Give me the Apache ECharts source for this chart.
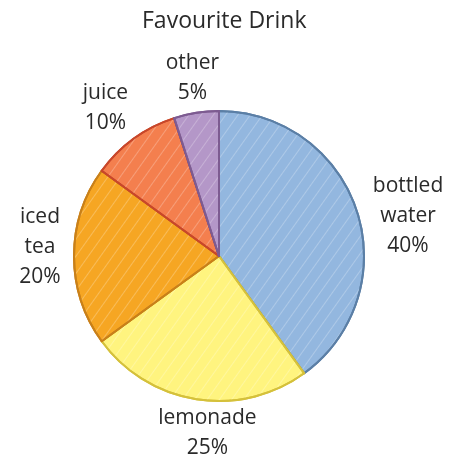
<!DOCTYPE html>
<html><head><meta charset="utf-8">
<script src="https://cdn.jsdelivr.net/npm/echarts@6/dist/echarts.min.js"></script>
<style>html,body{margin:0;padding:0;background:#fff}#c{width:456px;height:462px}</style>
</head><body><div id="c"></div>
<script>
const title = 'Favourite Drink';
const categories = ['bottled\nwater', 'lemonade', 'iced\ntea', 'juice', 'other'];
const values = [40, 25, 20, 10, 5];
const fills = ['#93b7df', '#fff47f', '#f6a623', '#f47f4e', '#b497c8'];
const strokes = ['#5b7fa6', '#d5c13b', '#c98019', '#c8472a', '#7d5b91'];

// layout / style settings
const CX = 219, CY = 256, R = 145, LR = 183;
const labelNudge = [[15, 17], [17, -4], [4, -9], [-6, 0], [2, 3]];

const total = values.reduce((a, b) => a + b, 0);
const mids = [];
let acc = 0;
values.forEach(v => { mids.push((acc + v / 2) / total * Math.PI * 2); acc += v; });

const chart = echarts.init(document.getElementById('c'), null, {renderer: 'canvas'});
chart.setOption({
  animation: false,
  title: {text: title, left: 137, top: 5,
    textStyle: {fontFamily: 'Open Sans', fontWeight: 'normal', fontSize: 23, color: '#2a2a2a'}},
  series: [{
    type: 'pie',
    center: [CX, CY],
    radius: [0, R],
    startAngle: 90,
    clockwise: true,
    data: categories.map((c, i) => ({
      name: c, value: values[i],
      itemStyle: {color: fills[i], borderColor: strokes[i], borderWidth: 2,
        decal: {symbol: 'rect', symbolSize: 1, dashArrayX: [1, 0], dashArrayY: [1, 9],
          rotation: -Math.PI / 3.3, color: 'rgba(255,255,255,0.25)'}}
    })),
    label: {
      show: true, position: 'inside',
      formatter: p => p.name + '\n' + p.value + '%',
      fontFamily: 'Open Sans', fontSize: 21, color: '#2a2a2a', lineHeight: 30, align: 'center'
    },
    labelLine: {show: false},
    labelLayout: p => {
      const a = mids[p.dataIndex];
      const n = labelNudge[p.dataIndex];
      return {x: CX + LR * Math.sin(a) + n[0], y: CY - LR * Math.cos(a) + n[1],
        align: 'center', verticalAlign: 'middle'};
    }
  }]
});
</script></body></html>
